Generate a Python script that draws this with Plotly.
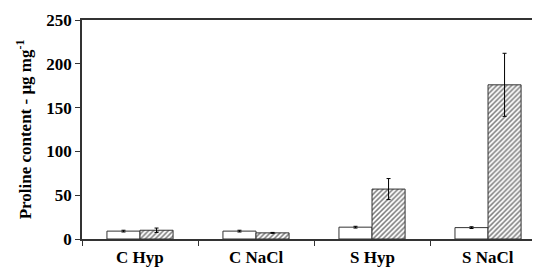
import plotly.graph_objects as go

categories = ["C Hyp", "C NaCl", "S Hyp", "S NaCl"]
control_vals = [9, 9, 13.5, 13]
control_err = [1, 1, 1, 1]
treated_vals = [10, 7, 57, 176]
treated_err = [2.5, 0.5, 12, 36]
y_ticks = [0, 50, 100, 150, 200, 250]

font = "Liberation Serif"

fig = go.Figure()
fig.add_trace(go.Bar(
    x=categories, y=control_vals,
    marker=dict(color="white", line=dict(color="#333333", width=1)),
    error_y=dict(type="data", array=control_err, color="black", thickness=1, width=2),
    showlegend=False,
))
fig.add_trace(go.Bar(
    x=categories, y=treated_vals,
    marker=dict(color="white", line=dict(color="#333333", width=1),
                pattern=dict(shape="/", fgcolor="black", bgcolor="white", size=3.5, solidity=0.45)),
    error_y=dict(type="data", array=treated_err, color="black", thickness=1, width=2),
    showlegend=False,
))

for c in categories:
    fig.add_annotation(
        x=c, y=0, xref="x", yref="paper", yanchor="top", yshift=-7,
        text="<b>" + c + "</b>", showarrow=False,
        font=dict(family=font, size=17, color="black"),
    )

fig.update_layout(
    width=532, height=260,
    margin=dict(l=74, r=0, t=12, b=29),
    barmode="group", bargap=0.43, bargroupgap=0,
    plot_bgcolor="white", paper_bgcolor="white",
    font=dict(family=font, size=17, color="black"),
)
fig.update_xaxes(
    range=[-0.5, 3.448], automargin=False,
    showline=True, linecolor="#333333", linewidth=1.5, mirror=True,
    ticks="outside", tickson="boundaries", ticklen=5, tickcolor="#333333",
    showticklabels=False,
    showgrid=False,
)
fig.update_yaxes(
    range=[0, 250], tickvals=y_ticks, ticktext=["<b>%d</b>" % v for v in y_ticks],
    automargin=False,
    showline=True, linecolor="#333333", linewidth=1.5,
    ticks="outside", ticklen=5, tickcolor="#333333",
    tickfont=dict(family=font, size=17, color="black"),
    showgrid=False, zeroline=False,
    title=dict(text="<b>Proline content - μg mg<sup>-1</sup></b>",
               font=dict(family=font, size=17, color="black"), standoff=10),
)

fig.write_html("out.html")
